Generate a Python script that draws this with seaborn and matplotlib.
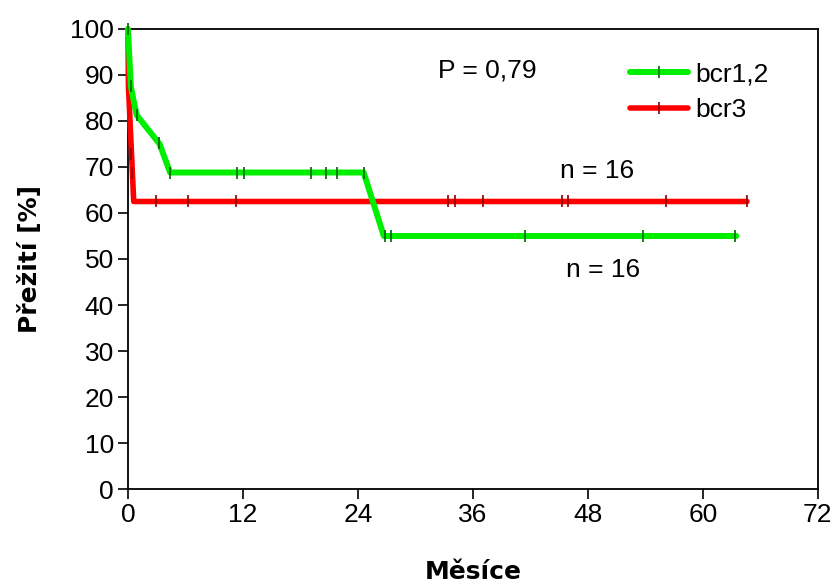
import matplotlib
matplotlib.use("Agg")
import matplotlib.pyplot as plt
from matplotlib.lines import Line2D
import seaborn as sns
import pandas as pd

# Survival curves (months, % survival)
green_t = [0, 0.3, 0.9, 3.3, 4.4, 24.6, 26.7, 63.5]
green_s = [100, 87.5, 81.3, 75.0, 68.8, 68.8, 55.0, 55.0]
red_t = [0, 0.05, 0.6, 64.6]
red_s = [100, 87.5, 62.5, 62.5]

# Censoring marks
green_cens_t = [0.0, 0.3, 0.9, 3.2, 4.4, 11.4, 12.1, 19.1, 20.7, 21.8, 24.6,
                26.8, 27.5, 41.4, 53.7, 63.4]
green_cens_s = [100, 87.5, 81.3, 75.2, 68.8, 68.8, 68.8, 68.8, 68.8, 68.8, 68.8,
                55.0, 55.0, 55.0, 55.0, 55.0]
red_cens_t = [0.35, 0.45, 2.9, 6.3, 11.3, 33.4, 34.1, 37.1, 45.3, 45.9, 56.2, 64.6]
red_cens_s = [72.9, 68.8, 62.5, 62.5, 62.5, 62.5, 62.5, 62.5, 62.5, 62.5, 62.5, 62.5]

labels = ["bcr1,2", "bcr3"]
x_ticks = [0, 12, 24, 36, 48, 60, 72]
y_ticks = [0, 10, 20, 30, 40, 50, 60, 70, 80, 90, 100]

GREEN = "#00ee00"
RED = "#ff0000"
DGREEN = "#006400"
DRED = "#8b0000"

sns.set_style("ticks")
plt.rcParams["font.family"] = ["Liberation Sans", "DejaVu Sans"]
plt.rcParams["text.color"] = "black"
plt.rcParams["axes.labelcolor"] = "black"
plt.rcParams["xtick.color"] = "black"
plt.rcParams["ytick.color"] = "black"

fig = plt.figure(figsize=(8.32, 5.83), dpi=100)
ax = fig.add_axes([0.1538, 0.1612, 0.983 - 0.1538, 0.9503 - 0.1612])

dg = pd.DataFrame({"t": green_t, "s": green_s})
dr = pd.DataFrame({"t": red_t, "s": red_s})
sns.lineplot(data=dr, x="t", y="s", sort=False, estimator=None, color=RED,
             lw=4.0, ax=ax, clip_on=False, zorder=3, solid_capstyle="round")
sns.lineplot(data=dg, x="t", y="s", sort=False, estimator=None, color=GREEN,
             lw=4.3, ax=ax, clip_on=False, zorder=4, solid_capstyle="round")

ax.plot(red_cens_t, red_cens_s, ls="none", marker="|", ms=8, mew=1.2,
        color=DRED, clip_on=False, zorder=5)
ax.plot(green_cens_t, green_cens_s, ls="none", marker="|", ms=8, mew=1.2,
        color=DGREEN, clip_on=False, zorder=6)

ax.set_xlim(0, 72)
ax.set_ylim(0, 100)
ax.set_xticks(x_ticks)
ax.set_yticks(y_ticks)
ax.tick_params(direction="out", length=7, width=1.2, labelsize=19, pad=3,
               color="black", labelcolor="black")
for sp in ax.spines.values():
    sp.set_linewidth(1.3)
    sp.set_color("black")

ax.set_xlabel("Měsíce", fontsize=18, fontweight="bold", labelpad=24,
              family=["DejaVu Sans"])
ax.set_ylabel("Přežití [%]", fontsize=18, fontweight="bold", labelpad=20,
              family=["DejaVu Sans"])

ax.text(37.5, 91, "P = 0,79", fontsize=19, ha="center", va="center")
ax.text(49.0, 69.2, "n = 16", fontsize=19, ha="center", va="center")
ax.text(49.6, 47.6, "n = 16", fontsize=19, ha="center", va="center")

handles = [
    Line2D([0], [0], color=GREEN, lw=4.3, marker="|", ms=8, mew=1.2,
           markeredgecolor=DGREEN),
    Line2D([0], [0], color=RED, lw=4.0, marker="|", ms=8, mew=1.2,
           markeredgecolor=DRED),
]
ax.legend(handles, labels, loc="upper left", bbox_to_anchor=(0.727, 0.928),
          frameon=False, fontsize=19, handlelength=2.2, handletextpad=0.3,
          labelspacing=0.45, borderaxespad=0, borderpad=0)

fig.savefig("out.png", dpi=100)
